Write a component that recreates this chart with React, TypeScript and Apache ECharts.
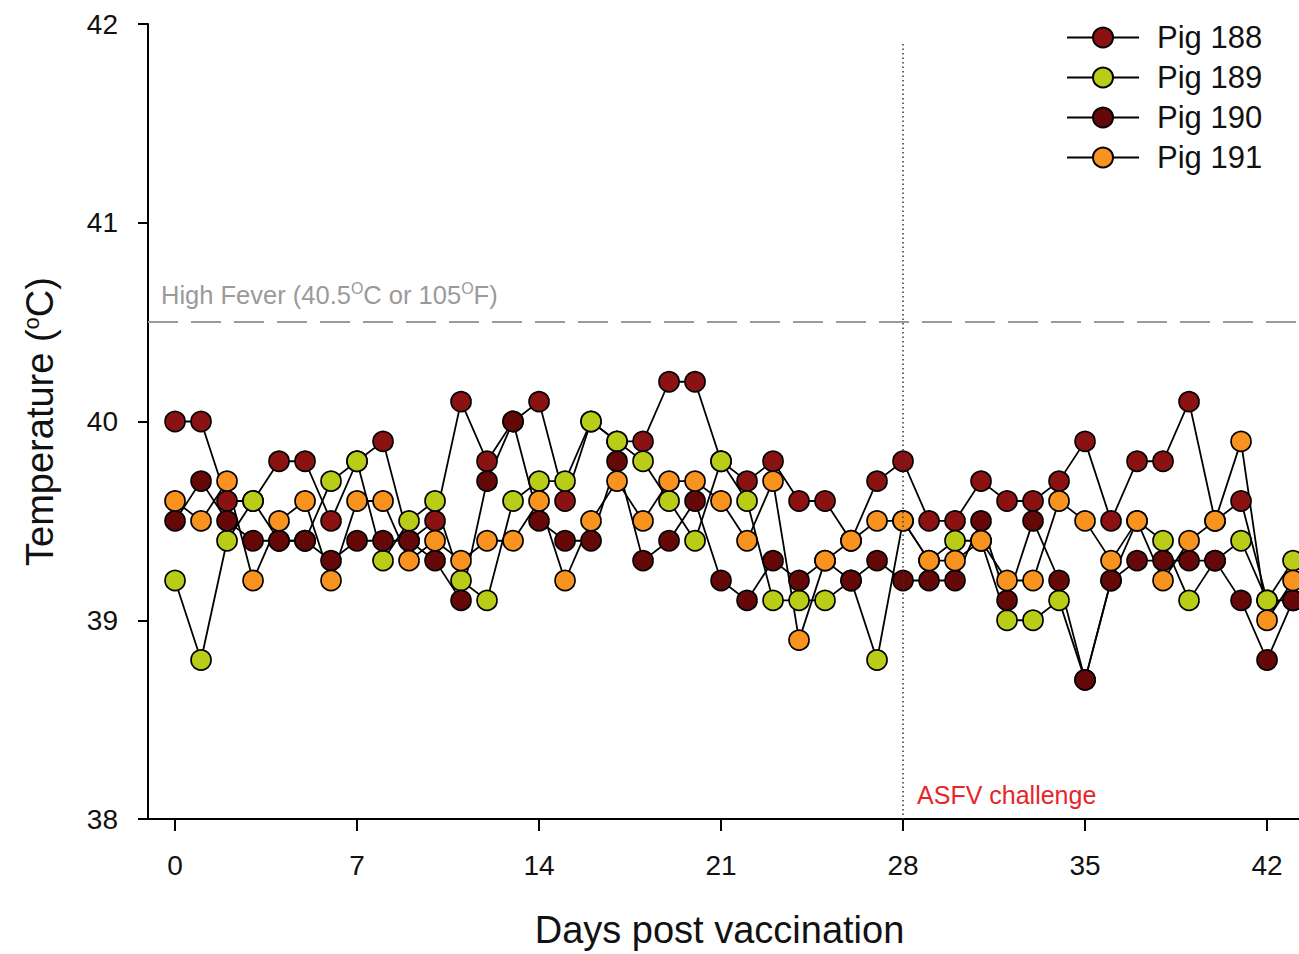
import React, { useEffect, useRef } from "react";
import * as echarts from "echarts";

const days = [0,1,2,3,4,5,6,7,8,9,10,11,12,13,14,15,16,17,18,19,20,21,22,23,24,25,26,27,28,29,30,31,32,33,34,35,36,37,38,39,40,41,42,43];

const pig188 = [40.0,40.0,39.6,39.6,39.8,39.8,39.5,39.8,39.9,39.4,39.5,40.1,39.8,40.0,40.1,39.6,40.0,39.9,39.9,40.2,40.2,39.8,39.7,39.8,39.6,39.6,39.4,39.7,39.8,39.5,39.5,39.7,39.6,39.6,39.7,39.9,39.5,39.8,39.8,40.1,39.5,39.6,39.1,39.1];
const pig189 = [39.2,38.8,39.4,39.6,39.4,39.4,39.7,39.8,39.3,39.5,39.6,39.2,39.1,39.6,39.7,39.7,40.0,39.9,39.8,39.6,39.4,39.8,39.6,39.1,39.1,39.1,39.2,38.8,39.5,39.3,39.4,39.4,39.0,39.0,39.1,38.7,39.2,39.5,39.4,39.1,39.3,39.4,39.1,39.3];
const pig190 = [39.5,39.7,39.5,39.4,39.4,39.4,39.3,39.4,39.4,39.4,39.3,39.1,39.7,40.0,39.5,39.4,39.4,39.8,39.3,39.4,39.6,39.2,39.1,39.3,39.2,39.3,39.2,39.3,39.2,39.2,39.2,39.5,39.1,39.5,39.2,38.7,39.2,39.3,39.3,39.3,39.3,39.1,38.8,39.1];
const pig191 = [39.6,39.5,39.7,39.2,39.5,39.6,39.2,39.6,39.6,39.3,39.4,39.3,39.4,39.4,39.6,39.2,39.5,39.7,39.5,39.7,39.7,39.6,39.4,39.7,38.9,39.3,39.4,39.5,39.5,39.3,39.3,39.4,39.2,39.2,39.6,39.5,39.3,39.5,39.2,39.4,39.5,39.9,39.0,39.2];

const seriesNames = ["Pig 188", "Pig 189", "Pig 190", "Pig 191"];
const seriesColors = ["#8a1212", "#b9cc17", "#650808", "#f99320"];
const seriesValues = [pig188, pig189, pig190, pig191];

const xTicks = [0, 7, 14, 21, 28, 35, 42];
const feverLevel = 40.5;
const challengeDay = 28;

const FONT = "Liberation Sans, Arial, Helvetica, sans-serif";

export default function App() {
  const ref = useRef<HTMLDivElement>(null);

  useEffect(() => {
    if (!ref.current) return;
    const chart = echarts.init(ref.current, null, { renderer: "svg" });

    const series: any[] = seriesNames.map((name, si) => ({
      name,
      type: "line",
      data: days.map((d, i) => [d, seriesValues[si][i]]),
      symbol: "circle",
      symbolSize: 20,
      itemStyle: { color: seriesColors[si], borderColor: "#000", borderWidth: 1.7 },
      lineStyle: { color: "#000", width: 1.8 },
      emphasis: { disabled: true },
    }));

    series[0].markLine = {
      silent: true,
      symbol: ["none", "none"],
      animation: false,
      data: [
        {
          yAxis: feverLevel,
          lineStyle: { color: "#9a9a9a", width: 2, type: [30, 13] },
          label: {
            show: true,
            position: "insideStartTop",
            distance: [13, 12],
            formatter: "{t|High Fever (40.5}{s|O}{t|C or 105}{s|O}{t|F)}",
            rich: {
              t: { fontSize: 25.5, color: "#9a9a9a", fontFamily: FONT, lineHeight: 30 },
              s: { fontSize: 16, color: "#9a9a9a", fontFamily: FONT, lineHeight: 16, verticalAlign: "top" },
            },
          },
        },
        [
          {
            coord: [challengeDay, 41.9],
            lineStyle: { color: "#333", width: 1.5, type: [1.5, 3] },
            label: { show: false },
          },
          { coord: [challengeDay, 38] },
        ],
      ],
    };
    series[0].markPoint = {
      silent: true,
      animation: false,
      data: [
        {
          coord: [challengeDay, 38.12],
          symbol: "circle",
          symbolSize: 0,
          itemStyle: { color: "transparent", borderWidth: 0 },
          label: {
            show: true,
            position: "right",
            distance: 14,
            formatter: "ASFV challenge",
            color: "#e8242b",
            fontSize: 25,
            fontFamily: FONT,
          },
        },
      ],
    };

    chart.setOption({
      animation: false,
      backgroundColor: "#ffffff",
      textStyle: { fontFamily: FONT },
      grid: { left: 148, right: 15, top: 24, bottom: 131, containLabel: false },
      legend: {
        data: seriesNames,
        orient: "vertical",
        left: 1066,
        top: 22,
        padding: 0,
        itemWidth: 72,
        itemHeight: 25,
        itemGap: 9,
        textStyle: { fontSize: 31, color: "#111", fontFamily: FONT, padding: [0, 0, 0, 13] },
        selectedMode: false,
      },
      xAxis: {
        type: "value",
        min: -1.04,
        max: 43.46,
        name: "Days post vaccination",
        nameLocation: "middle",
        nameGap: 92,
        nameTextStyle: { fontSize: 38, color: "#111", fontFamily: FONT, padding: [0, 14, 0, 0] },
        axisLine: { show: true, onZero: false, lineStyle: { color: "#000", width: 2 } },
        axisTick: { show: true, length: 12, lineStyle: { color: "#000", width: 2 }, customValues: xTicks },
        axisLabel: { fontSize: 28, color: "#111", margin: 32, fontFamily: FONT, customValues: xTicks },
        splitLine: { show: false },
      },
      yAxis: {
        type: "value",
        min: 38,
        max: 42,
        interval: 1,
        name: "{a|Temperature (}{s|o}{a|C)}",
        nameLocation: "middle",
        nameGap: 88,
        nameRotate: 90,
        nameTextStyle: {
          rich: {
            a: { fontSize: 38, color: "#111", fontFamily: FONT, lineHeight: 40 },
            s: { fontSize: 22, color: "#111", fontFamily: FONT, lineHeight: 22, verticalAlign: "top" },
          },
        },
        axisLine: { show: true, onZero: false, lineStyle: { color: "#000", width: 2 } },
        axisTick: { show: true, length: 10, lineStyle: { color: "#000", width: 2 } },
        axisLabel: { fontSize: 28, color: "#111", margin: 30, fontFamily: FONT },
        splitLine: { show: false },
      },
      series,
    });

    return () => chart.dispose();
  }, []);

  return (
    <div style={{ position: "fixed", left: 0, top: 0, width: 1299, height: 954, overflow: "hidden", background: "#fff" }}>
      <div ref={ref} style={{ width: 1320, height: 954 }} />
    </div>
  );
}
